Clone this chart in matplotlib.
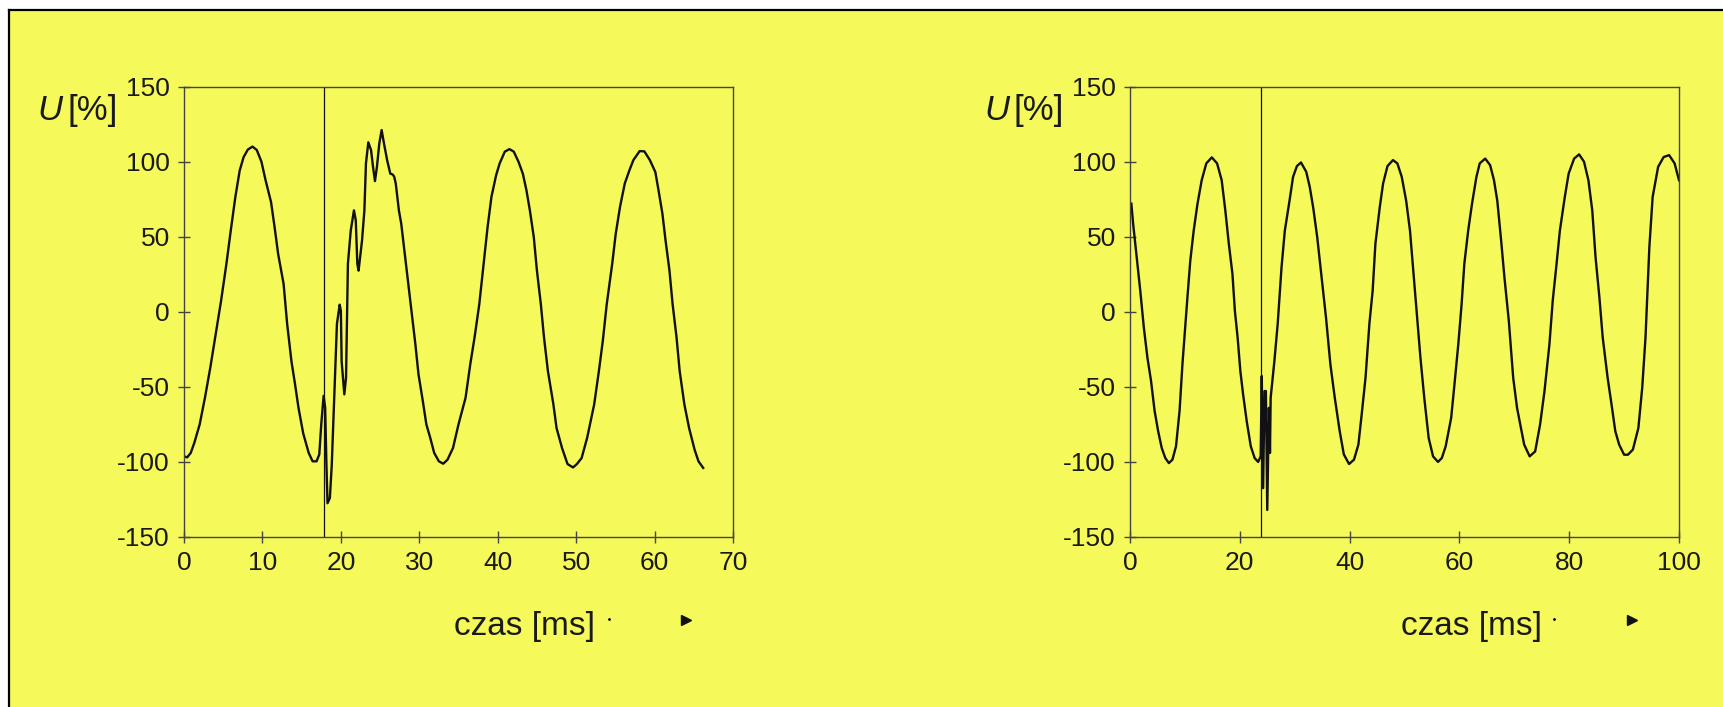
import matplotlib
matplotlib.use("Agg")
import matplotlib.pyplot as plt
from matplotlib.patches import Rectangle
from matplotlib.lines import Line2D

plt.rcParams['font.family'] = ['Liberation Sans', 'DejaVu Sans']

# ---------------- data ----------------
left_t = [0.04, 0.4, 0.86, 1.31, 2.0, 2.68, 3.36, 4.04, 4.73, 5.41, 5.96, 6.55, 7.1, 7.6,
          8.14, 8.73, 9.28, 9.87, 10.4, 11.1, 11.56, 12.0, 12.7, 13.15, 13.7, 14.15,
          14.6, 15.2, 15.9, 16.4, 16.9, 17.25, 17.5, 17.8, 18.0, 18.16, 18.3, 18.6,
          18.84, 19.16, 19.5, 19.85, 20.0, 20.1, 20.44, 20.66, 20.9, 21.26, 21.67,
          21.9, 22.1, 22.26, 22.7, 23.0, 23.2, 23.5, 23.85, 24.1, 24.35, 24.6, 24.9,
          25.2, 25.5, 25.9, 26.3, 26.6, 26.8, 27.0, 27.4, 27.7, 28.1, 28.6, 29.1,
          29.5, 29.9, 30.45, 30.9, 31.4, 31.9, 32.5, 33.05, 33.6, 34.3, 35.0, 35.9,
          36.5, 37.05, 37.65, 38.2, 38.7, 39.2, 39.8, 40.25, 40.9, 41.5, 42.05, 42.65,
          43.2, 43.66, 44.1, 44.6, 45.0, 45.5, 45.9, 46.4, 47.1, 47.5, 48.2, 48.9,
          49.6, 50.1, 50.7, 51.4, 52.3, 52.9, 53.4, 53.9, 54.6, 55.05, 55.6, 56.2,
          56.8, 57.3, 58.1, 58.7, 59.4, 60.1, 60.5, 61.0, 61.4, 61.9, 62.3, 62.8,
          63.2, 63.8, 64.4, 65.1, 65.6, 66.2]
left_u = [-96.3, -97, -94, -87.4, -75, -57, -37, -15, 7.4, 32, 54, 76.5, 94, 103,
          108, 110, 107.7, 100, 87.6, 73, 56, 38.6, 18.5, -8, -33, -48,
          -64, -81, -94, -99.6, -99.6, -95, -75, -56, -64, -102, -127.5, -124,
          -102, -57, -8, 4.7, 0.7, -33, -55, -44, 32, 54, 67.5,
          61, 32, 27.4, 47.5, 67.5, 98.8, 112.8, 107.7, 96.5, 87, 96.5, 112,
          121, 112, 101, 92, 91.4, 90, 85.4, 67.5, 58.6, 40.8, 18.5, -3.8,
          -21.6, -41.7, -59.5, -75, -84, -94, -99.6, -101.2, -98.5, -90.7, -75, -57.3,
          -35, -17, 5, 32, 56, 76.5, 91, 98.8, 106.6, 108.3, 106.6, 99.9,
          92, 81, 67.5, 49.7, 27.4, 5, -17, -39.5, -61.7, -77.4, -90.7, -101.4,
          -103.7, -101.4, -97.4, -84, -61.7, -39.5, -19.4, 5, 32, 52, 70, 85.4,
          94.3, 101, 107, 106.8, 101, 93, 81, 65.3, 47.5, 27.4, 5, -17,
          -39.5, -61.7, -77.4, -91.8, -99.6, -104]

right_t = [0.25, 0.57, 1.22, 1.87, 2.52, 3.17, 3.83, 4.48, 5.13, 5.78, 6.43, 7.08, 7.73,
           8.38, 9.03, 9.55, 10.0, 10.46, 10.98, 11.6, 12.3, 13.06, 13.9, 14.9, 15.86,
           16.7, 17.36, 18.0, 18.66, 19.1, 19.6, 20.1, 20.6, 21.26, 22.0, 22.7, 23.34,
           23.8, 24.0, 24.25, 24.5, 24.75, 25.0, 25.3, 25.5, 25.62, 26.3, 26.9, 27.6,
           28.2, 29.06, 29.7, 30.4, 31.15, 32.1, 32.75, 33.4, 34.1, 34.9, 35.7, 36.5,
           37.3, 38.2, 38.95, 39.9, 40.8, 41.6, 42.2, 42.9, 43.6, 44.2, 44.7, 45.5,
           46.1, 46.9, 47.9, 48.7, 49.5, 50.3, 51.0, 51.6, 52.3, 52.9, 53.6, 54.4,
           55.2, 56.1, 56.8, 57.5, 58.5, 59.1, 59.8, 60.4, 60.9, 61.6, 62.3, 63.1,
           63.7, 64.7, 65.6, 66.3, 66.9, 67.6, 68.2, 69.0, 69.8, 70.5, 71.2, 71.8,
           72.8, 73.8, 74.7, 75.5, 76.4, 77.0, 77.7, 78.3, 79.2, 79.9, 80.9, 81.8,
           82.7, 83.5, 84.2, 84.8, 85.5, 86.1, 87.0, 87.8, 88.4, 89.1, 90.0, 90.7,
           91.6, 92.6, 93.3, 93.9, 94.6, 95.2, 96.2, 97.2, 98.2, 99.2, 100.0]
right_u = [72, 58.6, 36.3, 14, -10.5, -30.5, -46, -66, -79.6, -90.7, -97.4, -100.8, -98.5,
           -89.6, -66, -35, -12.7, 9.6, 34, 54, 72, 87.6, 98.8, 102.8, 98.8,
           87.6, 67.5, 45.3, 25.2, 0.7, -17, -39.5, -55, -72.9, -89.6, -97.4, -100,
           -96.3, -42.8, -117.5, -52.8, -52.8, -132, -64, -94, -57.3, -32.8, -8.2, 29.6,
           54, 74, 89.8, 97, 99.4, 93.2, 83, 68.6, 49.7, 23, -3.8, -35,
           -57.3, -79.6, -95, -101.4, -98.5, -88.5, -68.4, -44, -8.2, 14, 45.3, 69.8,
           85.4, 97, 101, 98.8, 89.8, 74, 54, 27.4, -3.8, -30.5, -57.3, -84,
           -96.3, -100, -97.4, -89.6, -70.7, -48.4, -21.6, 5, 32, 54, 72, 89.8,
           98.8, 102, 97.6, 87.6, 74, 47.5, 23, -6, -44, -64, -77.4, -88.5,
           -96.3, -93, -75, -52.8, -21.6, 7.4, 32, 54, 76.5, 92, 102, 104.8,
           99.9, 87.6, 67.5, 36.3, 9.6, -17, -44, -64, -79.6, -88.5, -95.2, -95.2,
           -91.8, -77.4, -50.6, -17, 43, 76.5, 96.5, 103, 104.3, 98.8, 87.6]

left_xticks = [0, 10, 20, 30, 40, 50, 60, 70]
right_xticks = [0, 20, 40, 60, 80, 100]
yticks = [-150, -100, -50, 0, 50, 100, 150]
left_event = 17.9
right_event = 23.93

ylabel_text = "[%]"
xlabel_text = "czas [ms]"

# ---------------- figure ----------------
W, H = 1724, 707
fig = plt.figure(figsize=(W / 100, H / 100), dpi=100)
fig.patch.set_facecolor('white')
yellow = '#F6F95A'

fig.add_artist(Rectangle((9.5 / W, 0), 1, 1 - 9.5 / H, transform=fig.transFigure,
                         facecolor=yellow, edgecolor='none', zorder=0))
fig.add_artist(Line2D([9.5 / W, 9.5 / W], [0, 1 - 9.5 / H], transform=fig.transFigure,
                      color='black', lw=1.6, zorder=1))
fig.add_artist(Line2D([9.5 / W, 1], [1 - 9.5 / H, 1 - 9.5 / H], transform=fig.transFigure,
                      color='black', lw=1.6, zorder=1))

panels = [
    (184, 733, left_t, left_u, left_xticks, left_event, 37.8, 525, 608.7, 685.7),
    (1130, 1679, right_t, right_u, right_xticks, right_event, 984, 1472, 1554, 1632.5),
]
ax_bottom = 1 - 537 / H
ax_top = 1 - 86.5 / H

for (x0, x1, t, u, xt, ev, ulx, clx, dotx, trix) in panels:
    ax = fig.add_axes([x0 / W, ax_bottom, (x1 - x0) / W, ax_top - ax_bottom])
    ax.set_facecolor('none')
    ax.plot(t, u, color='#111111', lw=1.7, solid_joinstyle='round')
    ax.axvline(ev, color='#111111', lw=0.9)
    ax.set_xlim(xt[0], xt[-1])
    ax.set_ylim(-150, 150)
    ax.set_xticks(xt)
    ax.set_yticks(yticks)
    ax.set_xticklabels([str(v) for v in xt])
    ax.set_yticklabels([str(v) for v in yticks])
    for s in ax.spines.values():
        s.set_color('#444444')
        s.set_linewidth(1.0)
    ax.tick_params(direction='inout', length=8.5, width=1.0, color='#444444',
                   labelsize=19, labelcolor='#1a1a1a', pad=6)

    fig.text(ulx / W, 1 - 110.7 / H, "U", fontsize=25, style='italic',
             ha='left', va='center', color='#1a1a1a')
    fig.text((ulx + 30) / W, 1 - 110.7 / H, ylabel_text, fontsize=25,
             ha='left', va='center', color='#1a1a1a')
    fig.text(clx / W, 1 - 627 / H, xlabel_text, fontsize=24,
             ha='center', va='center', color='#1a1a1a')
    fig.add_artist(Line2D([dotx / W], [1 - 619.3 / H], transform=fig.transFigure,
                          marker='o', markersize=1.0, color='black', linestyle='none'))
    fig.add_artist(Line2D([trix / W], [1 - 619.6 / H], transform=fig.transFigure,
                          marker='>', markersize=7.5, color='#111111', linestyle='none'))

fig.savefig('out.png', dpi=100, facecolor=fig.get_facecolor())
